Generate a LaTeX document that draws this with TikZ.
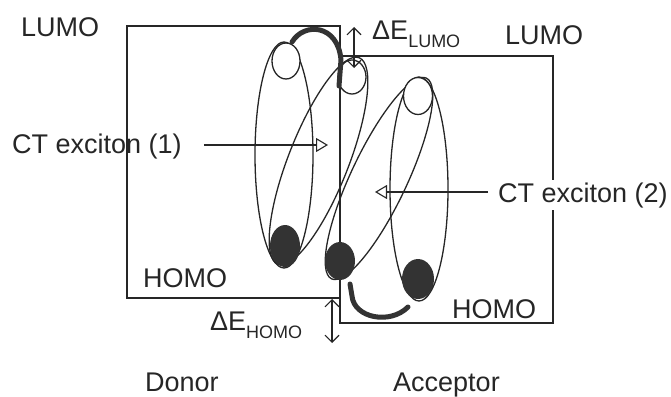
\documentclass[tikz,border=0pt]{standalone}
\usepackage{fontspec}
\setmainfont{Liberation Sans}
\usetikzlibrary{arrows.meta}
\begin{document}
\begin{tikzpicture}[x=1pt,y=-1pt,
  ink/.style={draw=black!85},
  level/.style={ink, line width=1.4pt},
  orb/.style={ink, line width=1.3pt},
  hole/.style={ink, line width=1.3pt, fill=white},
  elec/.style={fill=black!80, draw=none},
  lbl/.style={font=\fontsize{27}{30}\selectfont, text=black!85, inner sep=0pt, anchor=base west},
  ptr/.style={ink, line width=1.1pt, -{Triangle[open,length=12pt,width=14pt]}},
  gap/.style={ink, line width=1.1pt, {Straight Barb[length=7pt,width=14pt]}-{Straight Barb[length=7pt,width=14pt]}},
  transfer/.style={draw=black!80, line width=5pt, line cap=round, line join=round}]

\useasboundingbox (0,0) rectangle (671,396);

% energy level boxes
\draw[level] (127,26) -- (340,26) -- (340,298) -- (127,298) -- cycle;
\draw[level] (340,56) rectangle (553,323);

% exciton ellipses
\draw[orb] (284,155) ellipse [x radius=29, y radius=113];
\draw[orb] (419,189) ellipse [x radius=29, y radius=112];
\draw[orb, rotate around={68.5:(318.5,161)}] (318.5,161) ellipse [x radius=111, y radius=30];
\draw[orb, rotate around={64.7:(379,178.5)}] (379,178.5) ellipse [x radius=111, y radius=28];

% electrons and holes
\draw[hole] (286,61) ellipse [x radius=14, y radius=18];
\draw[hole] (352,77) ellipse [x radius=14, y radius=17];
\draw[hole] (418,96) ellipse [x radius=14.5, y radius=18.5];
\fill[elec] (285,246) ellipse [x radius=15, y radius=21];
\fill[elec] (340,261) ellipse [x radius=15, y radius=19];
\fill[elec] (418,279) ellipse [x radius=16, y radius=20];

% charge transfer arcs
\draw[transfer] (292,42) .. controls (304,22) and (338,24) .. (341,60) -- (339,86);
\draw[transfer] (350,284) -- (352,296) .. controls (354,318) and (390,325) .. (408,307);

% offsets
\coordinate (lt) at (354,27);
\coordinate (lb) at (354,68);
\coordinate (ht) at (332,299);
\coordinate (hb) at (332,343);
\draw[gap] (lt) -- (lb);
\draw[gap] (ht) -- (hb);

% labels
\node[lbl] (lumoD) at (21,37) {LUMO};
\node[lbl] (lumoA) at (505,45) {LUMO};
\node[lbl] (dEL) at (372,40) {ΔE\raisebox{-8pt}{\fontsize{18}{20}\selectfont LUMO}};
\node[lbl] (ct1) at (12,153) {CT exciton (1)};
\node[lbl, fill=white, inner sep=2pt] (ct2) at (496,202) {CT exciton (2)};
\node[lbl] (homoD) at (143,287) {HOMO};
\node[lbl] (dEH) at (210,330) {ΔE\raisebox{-8pt}{\fontsize{18}{20}\selectfont HOMO}};
\node[lbl] (homoA) at (452,318) {HOMO};
\node[lbl] (donor) at (145,391) {Donor};
\node[lbl] (acc) at (393,391) {Acceptor};

% pointers
\coordinate (ct1t) at (328,145);
\coordinate (ct2t) at (375,192);
\draw[ptr, shorten <=22pt] (ct1.east |- ct1t) -- (ct1t);
\draw[ptr, shorten <=8pt] (ct2.west |- ct2t) -- (ct2t);
\end{tikzpicture}
\end{document}
